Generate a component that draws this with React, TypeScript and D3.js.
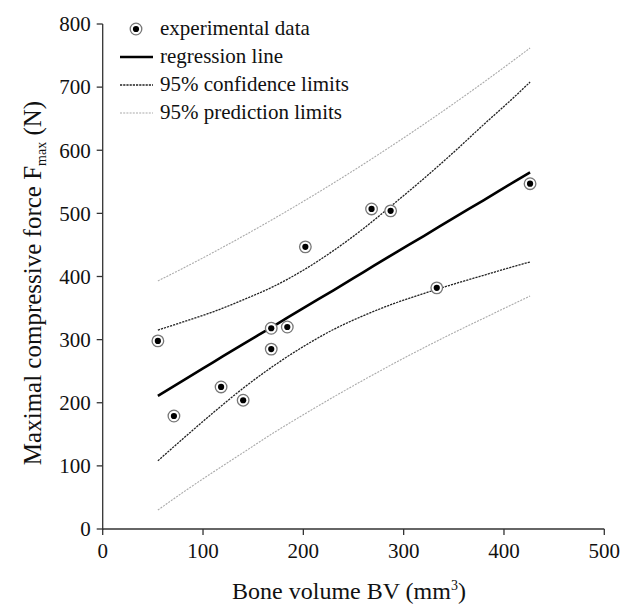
import React from "react";
import * as d3 from "d3";

// Experimental data
const bvData = [55, 71, 118, 140, 168, 168, 184, 202, 268, 287, 333, 426];
const forceData = [298, 179, 225, 204, 318, 285, 320, 447, 507, 504, 382, 547];

// Curves
const bandX = [55, 80, 110, 140, 170, 200, 230, 260, 290, 320, 350, 380, 410, 426];
const regressionY = [211, 235, 264, 293, 321, 350, 378, 407, 436, 464, 493, 521, 550, 565];
const confUpper = [315, 328, 344, 363, 384, 410, 441, 476, 515, 555, 597, 641, 684, 708];
const confLower = [108, 143, 184, 223, 258, 289, 316, 338, 357, 373, 388, 402, 416, 423];
const predUpper = [393, 413, 438, 464, 491, 519, 548, 578, 609, 641, 674, 708, 743, 762];
const predLower = [30, 58, 90, 121, 152, 181, 209, 236, 262, 287, 311, 334, 357, 369];

const xTicks = [0, 100, 200, 300, 400, 500];
const yTicks = [0, 100, 200, 300, 400, 500, 600, 700, 800];

const legendLabels = [
  "experimental data",
  "regression line",
  "95% confidence limits",
  "95% prediction limits",
];

const W = 622;
const H = 605;
const FONT = "'Liberation Serif', 'Times New Roman', serif";

export default function App() {
  const x = d3.scaleLinear().domain([0, 500]).range([102.7, 604.3]);
  const y = d3.scaleLinear().domain([0, 800]).range([529, 24]);

  const line = (ys: number[]) =>
    d3
      .line<number>()
      .x((_, i) => x(bandX[i]))
      .y((d) => y(d))
      .curve(d3.curveMonotoneX)(ys) || "";

  const axisColor = "#333";
  const legX = 120;
  const legY0 = 29;
  const legDy = 28;

  return (
    <svg
      width={W}
      height={H}
      style={{ position: "absolute", left: 0, top: 0, background: "#fff" }}
      fontFamily={FONT}
    >
      {/* prediction limits */}
      <path d={line(predUpper)} fill="none" stroke="#aaa" strokeWidth={1.1} strokeDasharray="2,1.2" />
      <path d={line(predLower)} fill="none" stroke="#aaa" strokeWidth={1.1} strokeDasharray="2,1.2" />
      {/* confidence limits */}
      <path d={line(confUpper)} fill="none" stroke="#222" strokeWidth={1.3} strokeDasharray="2.2,1" />
      <path d={line(confLower)} fill="none" stroke="#222" strokeWidth={1.3} strokeDasharray="2.2,1" />
      {/* regression */}
      <path d={line(regressionY)} fill="none" stroke="#000" strokeWidth={2.6} />

      {/* points */}
      {bvData.map((bv, i) => (
        <g key={i}>
          <circle cx={x(bv)} cy={y(forceData[i])} r={5.8} fill="#fff" stroke="#777" strokeWidth={1.3} />
          <circle cx={x(bv)} cy={y(forceData[i])} r={3.1} fill="#000" />
        </g>
      ))}

      {/* axes */}
      <line x1={x(0)} x2={x(0)} y1={y(800)} y2={y(0) + 1} stroke={axisColor} strokeWidth={1.3} />
      <line x1={x(0)} x2={x(500)} y1={y(0)} y2={y(0)} stroke={axisColor} strokeWidth={1.3} />
      {yTicks.map((t) => (
        <g key={"y" + t}>
          <line x1={x(0) - 6} x2={x(0)} y1={y(t)} y2={y(t)} stroke={axisColor} strokeWidth={1.3} />
          <text x={x(0) - 12} y={y(t)} dy="0.35em" textAnchor="end" fontSize={21} fill="#111">
            {t}
          </text>
        </g>
      ))}
      {xTicks.map((t) => (
        <g key={"x" + t}>
          <line x1={x(t)} x2={x(t)} y1={y(0)} y2={y(0) + 6} stroke={axisColor} strokeWidth={1.3} />
          <text x={x(t)} y={558} textAnchor="middle" fontSize={21} fill="#111">
            {t}
          </text>
        </g>
      ))}

      {/* axis titles */}
      <text x={349} y={599} textAnchor="middle" fontSize={24} fill="#111">
        Bone volume BV (mm
        <tspan fontSize={14} dy={-9}>3</tspan>
        <tspan dy={9}>)</tspan>
      </text>
      <text
        transform={`translate(41, 283) rotate(-90)`}
        textAnchor="middle"
        fontSize={25}
        fill="#111"
      >
        Maximal compressive force F
        <tspan fontSize={14} dy={5}>max</tspan>
        <tspan dy={-5}> (N)</tspan>
      </text>

      {/* legend */}
      <g>
        <circle cx={136} cy={legY0} r={5.8} fill="#fff" stroke="#777" strokeWidth={1.3} />
        <circle cx={136} cy={legY0} r={3.1} fill="#000" />
        <line x1={legX} x2={153} y1={legY0 + legDy} y2={legY0 + legDy} stroke="#000" strokeWidth={2.6} />
        <line x1={legX} x2={153} y1={legY0 + 2 * legDy} y2={legY0 + 2 * legDy} stroke="#222" strokeWidth={1.3} strokeDasharray="2.2,1" />
        <line x1={legX} x2={153} y1={legY0 + 3 * legDy} y2={legY0 + 3 * legDy} stroke="#aaa" strokeWidth={1.1} strokeDasharray="2,1.2" />
        {legendLabels.map((l, i) => (
          <text key={l} x={160} y={legY0 + i * legDy} dy="0.3em" fontSize={21} fill="#111">
            {l}
          </text>
        ))}
      </g>
    </svg>
  );
}
